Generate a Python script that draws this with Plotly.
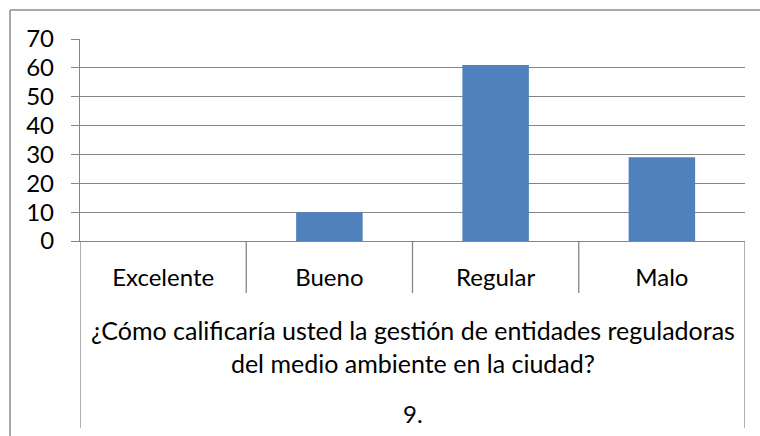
import plotly.graph_objects as go

categories = ["Excelente", "Bueno", "Regular", "Malo"]
values = [0, 10, 61, 29]
question_label = "¿Cómo calificaría usted la gestión de entidades reguladoras<br>del medio ambiente en la ciudad?"
group_label = "9."
y_ticks = [0, 10, 20, 30, 40, 50, 60, 70]

FONT = "Lato"
GRID = "#868686"
W, H = 760, 436
ML, MR, MT, MB = 80, 15, 39, 195
plot_w = W - ML - MR
plot_h = H - MT - MB

def py(pix_below_base):
    return -pix_below_base / plot_h

fig = go.Figure()
fig.add_trace(go.Bar(
    x=categories, y=values, width=0.4,
    marker=dict(color="#4F81BD", line=dict(width=0)),
    hoverinfo="x+y",
))

shapes = []
# category separators (outer ones run through the group level)
for i in range(len(categories) + 1):
    xpos = i - 0.5
    bottom = 187 if i in (0, len(categories)) else 52
    shapes.append(dict(type="line", xref="x", yref="paper",
                       x0=xpos, x1=xpos, y0=0, y1=py(bottom),
                       line=dict(color=GRID, width=1.3)))
# outer chart border (top and left edges are the only visible ones)
bx0 = (10 - ML) / plot_w
bx1 = (W + 40 - ML) / plot_w
by_top = (MT - 10 + plot_h) / plot_h
by_bot = py(260)
shapes.append(dict(type="line", xref="paper", yref="paper",
                   x0=bx0, x1=bx1, y0=by_top, y1=by_top,
                   line=dict(color="#8c8c8c", width=1.5), layer="below"))
shapes.append(dict(type="line", xref="paper", yref="paper",
                   x0=bx0, x1=bx0, y0=by_top, y1=by_bot,
                   line=dict(color="#8c8c8c", width=1.5), layer="below"))

fig.update_layout(
    width=W, height=H,
    margin=dict(l=ML, r=MR, t=MT, b=MB, autoexpand=False),
    paper_bgcolor="white", plot_bgcolor="white",
    font=dict(family=FONT, size=24, color="#000000"),
    showlegend=False,
    shapes=shapes,
    xaxis=dict(
        type="category", range=[-0.5, len(categories) - 0.5],
        categoryorder="array", categoryarray=categories,
        showgrid=False, zeroline=False,
        showline=True, linecolor=GRID, linewidth=1.3,
        ticks="", ticklabelstandoff=15,
        tickfont=dict(family=FONT, size=24, color="#000000"),
    ),
    yaxis=dict(
        range=[0, 70], tickvals=y_ticks,
        showgrid=True, gridcolor=GRID, gridwidth=1.3,
        zeroline=False,
        showline=True, linecolor=GRID, linewidth=1.3,
        ticks="outside", ticklen=8, tickcolor=GRID, tickwidth=1.3,
        ticklabelstandoff=12,
        tickfont=dict(family=FONT, size=24, color="#000000"),
    ),
    annotations=[
        dict(text=question_label, xref="x", yref="paper",
             x=(len(categories) - 1) / 2, y=py(105), showarrow=False,
             xanchor="center", yanchor="middle",
             font=dict(family=FONT, size=25, color="#000000")),
        dict(text=group_label, xref="x", yref="paper",
             x=(len(categories) - 1) / 2, y=py(172), showarrow=False,
             xanchor="center", yanchor="middle",
             font=dict(family=FONT, size=24, color="#000000")),
    ],
)

fig.write_html(
    "out.html",
    config={"displayModeBar": False},
    post_script="document.body.style.margin='0';document.body.style.overflow='hidden';",
)
